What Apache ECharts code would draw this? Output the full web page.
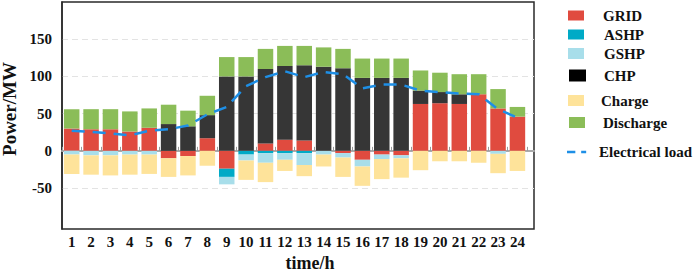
<!DOCTYPE html>
<html>
<head>
<meta charset="utf-8">
<script src="https://cdn.jsdelivr.net/npm/echarts@6/dist/echarts.min.js"></script>
<style>
html,body{margin:0;padding:0;background:#fff;}
#chart{width:699px;height:272px;}
</style>
</head>
<body>
<div id="chart"></div>
<script>
const hours = [1,2,3,4,5,6,7,8,9,10,11,12,13,14,15,16,17,18,19,20,21,22,23,24];
const yTicks = [-50,0,50,100,150];
const gridPower = [30,29,29,26,31,-10,-7,17,-24,0,10,15,14,0,-3,-12,-5,-6,63,64,63,76,57,46];
const ashp = [0,0,0,0,0,0,0,0,-11,-5,-3,-3,-3,0,0,0,0,0,0,0,0,0,0,0];
const gshp = [-5,-6,-6,-5,-5,0,0,0,-10,-8,-13,-9,-16,-5,-6,-9,-6,-4,0,0,0,0,-4,0];
const chp = [0,0,0,0,0,36,33,31,100,100,100,99,101,113,111,98,98,98,18,15,13,0,0,0];
const charge = [-26,-26,-27,-27,-26,-25,-26,-20,0,-26,-26,-15,-15,-16,-26,-26,-27,-26,-26,-14,-14,-16,-26,-27];
const discharge = [26,27,27,27,26,26,21,26,26,26,27,27,26,26,26,26,26,26,27,26,27,27,26,13];
const load = [27,25.5,23.5,21,27,29,34,49,59,87,99,107,99,106,103,84,89,89,81,79,77,76,56,44.5];

const FONT = "'Liberation Serif','Times New Roman',serif";
const labels = hours.map(String);
const boundaries = hours.map(h => h - 0.5).concat([hours[hours.length - 1] + 0.5]);
const BAND = 19.38;

const barSeries = (name, arr, color) => ({
  name, type: 'bar', stack: 'p', xAxisIndex: 0, yAxisIndex: 0, barWidth: 15.5,
  itemStyle: {color}, data: arr
});

const legendText = (pad) => ({fontFamily: FONT, fontWeight: 'bold', fontSize: 15, color: '#111', padding: [0,0,0,pad]});
const mkLegend = (name, left, top, w, h, pad) => ({
  show: true, orient: 'vertical', left, top, itemWidth: w, itemHeight: h,
  icon: 'rect', selectedMode: false, padding: 0,
  textStyle: legendText(pad), data: [name]
});

const chart = echarts.init(document.getElementById('chart'), null, {renderer: 'svg'});
chart.setOption({
  animation: false,
  backgroundColor: '#fff',
  grid: [
    {left: 62, top: 2, width: BAND * hours.length, height: 227, show: false},
    {left: 62, top: 2, width: 472, height: 227, show: true, borderColor: '#2a2a2a', borderWidth: 1.5, backgroundColor: 'transparent'}
  ],
  xAxis: [{
    type: 'category', gridIndex: 0, data: labels, boundaryGap: true, position: 'bottom',
    axisLine: {show: false, onZero: false},
    axisTick: {show: false},
    axisLabel: {show: true, interval: 0, hideOverlap: false, margin: 5, fontFamily: FONT, fontWeight: 'bold', fontSize: 15, color: '#111'},
    splitLine: {show: false}
  }, {
    type: 'value', gridIndex: 1, min: 0.5, max: 0.5 + 472 / BAND, position: 'bottom',
    axisLine: {show: true, onZero: true, lineStyle: {color: '#aaaaaa', width: 2}},
    axisTick: {show: true, inside: true, length: 4, customValues: boundaries, lineStyle: {color: '#999', width: 1}},
    axisLabel: {show: false},
    splitLine: {show: false}
  }],
  yAxis: [{
    type: 'value', gridIndex: 0, min: -105, max: 200,
    axisLine: {show: false}, axisTick: {show: false}, axisLabel: {show: false}, splitLine: {show: false}
  }, {
    type: 'value', gridIndex: 1, min: -105, max: 200,
    axisLine: {show: true, lineStyle: {color: '#2a2a2a', width: 1.5}},
    axisTick: {show: false, customValues: yTicks},
    axisLabel: {customValues: yTicks, margin: 10, fontFamily: FONT, fontWeight: 'bold', fontSize: 15, color: '#111'},
    splitLine: {show: true, lineStyle: {color: '#e3e3e3', type: [6, 4], width: 1}}
  }],
  legend: [
    mkLegend('GRID', 568, 8, 16, 10, 14),
    mkLegend('ASHP', 568, 27, 16, 10, 15),
    mkLegend('GSHP', 568, 46, 16, 11, 15),
    mkLegend({name: 'CHP', itemStyle: {color: '#000'}}, 569, 68, 17, 12, 13),
    mkLegend('Charge', 568, 93, 16, 11, 12),
    mkLegend('Discharge', 569, 115, 16, 11, 13),
    mkLegend({name: 'Electrical load', icon: 'path://M0,0H10V3H0Z M17,0H23V3H17Z', itemStyle: {color: '#1E8FE6'}}, 567, 144.5, 23, 2.5, 6)
  ],
  graphic: [
    {type: 'text', x: 310, y: 263, style: {text: 'time/h', font: "bold 18px 'Liberation Serif','Times New Roman',serif", fill: '#111', align: 'center', verticalAlign: 'middle'}},
    {type: 'text', x: 9, y: 109, rotation: Math.PI / 2, style: {text: 'Power/MW', font: "bold 19px 'Liberation Serif','Times New Roman',serif", fill: '#111', align: 'center', verticalAlign: 'middle'}}
  ],
  series: [
    barSeries('GRID', gridPower, '#E04B3F'),
    barSeries('ASHP', ashp, '#00AAC6'),
    barSeries('GSHP', gshp, '#A8DEEA'),
    barSeries('CHP', chp, '#363636'),
    barSeries('Charge', charge, '#FEE39A'),
    barSeries('Discharge', discharge, '#8BBD58'),
    {
      name: 'Electrical load', type: 'line', xAxisIndex: 0, yAxisIndex: 0, symbol: 'none', z: 5,
      lineStyle: {color: '#1E8FE6', width: 2.5, type: [13, 8]},
      itemStyle: {color: '#1E8FE6'},
      data: load
    }
  ]
});
</script>
</body>
</html>
